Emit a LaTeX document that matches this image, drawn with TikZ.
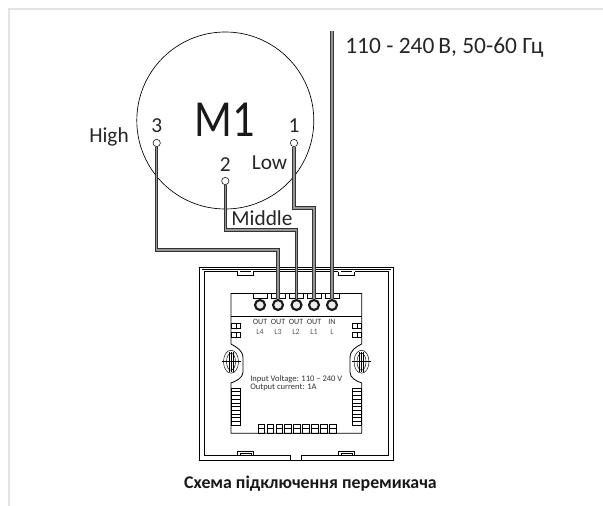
\documentclass[tikz,border=0pt]{standalone}
\usepackage{fontspec}
\setmainfont{Carlito}
\usetikzlibrary{positioning}
\definecolor{wirefill}{RGB}{150,150,150}
\definecolor{edgeline}{RGB}{222,230,236}
\tikzset{
	wire/.style={draw=black!80,line width=0.7pt,double=wirefill,double distance=1.1pt,line join=miter},
	term/.style={circle,draw,fill=white,inner sep=0pt,minimum size=5.5pt,line width=0.4pt},
	plate/.style={line width=0.6pt},
	thin part/.style={line width=0.35pt},
	screw/.style={circle,draw=black!90,line width=1.6pt,fill=black!8,inner sep=0pt,minimum size=7.5pt},
	lab/.style={font=\fontsize{16}{16}\selectfont,inner sep=0pt,text=black!85},
	tiny/.style={font=\fontsize{6}{6}\selectfont,inner sep=0pt,text=black!80},
	spec/.style={anchor=west,font=\fontsize{6.4}{6.4}\selectfont,inner sep=0pt,text=black!80},
}
\begin{document}
\begin{tikzpicture}[x=0.75pt,y=-0.75pt]
	\useasboundingbox (0,0) rectangle (603,506);
	% page edge
	\draw[edgeline,line width=0.9pt] (9,506) -- (9,9) -- (603,9);
	% motor
	\node[circle,draw,line width=0.5pt,minimum size=132.75pt,inner sep=0pt] (motor) at (225.3,120.5) {};
	\node[font=\fontsize{39}{39}\selectfont,inner sep=0pt,text=black!90,xscale=0.85] (mname) at (224.5,120) {M1};
	\node[term] (t3) at (156.7,143) {};
	\node[term] (t2) at (225.3,181) {};
	\node[term] (t1) at (294,143) {};
	\node[lab] (n3) at (156.7,126) {3};
	\node[lab] (n2) at (225.3,165) {2};
	\node[lab] (n1) at (294,126) {1};
	\node[lab] (high) at (109,137) {High};
	\node[lab] (low) at (269.5,163) {Low};
	\node[lab] (middle) at (262,218) {Middle};
	\node[lab,anchor=west,font=\fontsize{17.6}{17.6}\selectfont] (volt) at (345,47.5) {110 - 240\,В, 50-60 Гц};
	% plate
	\draw[plate] (199,460.7) -- (199,267) -- (393.3,267) -- (393.3,460.7) -- cycle;
	\draw[plate] (290,460.7) -- (290,455.7) -- (204,455.7) -- (204,271.5) -- (238,271.5);
	\draw[plate] (301.7,460.7) -- (301.7,455.7) -- (388.5,455.7) -- (388.5,271.5) -- (355,271.5);
	\draw[plate] (253,271.5) -- (338,271.5);
	\draw[thin part] (201.5,269.5) -- (391,269.5);
	% clips
	\foreach \cx in {245.5,346.5}{
		\draw[plate] ({\cx-8},271.5) -- ({\cx-8},275.5) -- ({\cx+8},275.5) -- ({\cx+8},271.5);
		\draw[thin part] ({\cx-5.5},271.5) -- ({\cx+5.5},271.5);
		\draw[plate] ({\cx-8},455.7) -- ({\cx-8},451) -- ({\cx+8},451) -- ({\cx+8},455.7);
		\draw[thin part] ({\cx-5.5},455.7) rectangle ({\cx+5.5},453);
	}
	% inner board
	\draw[plate] (231,293) -- (361.7,293);
	\draw[plate] (231,316) -- (361.7,316);
	\draw[plate] (231,293) -- (231,344) .. controls (236,347) and (243,350) .. (243,358) -- (243,372) .. controls (243,378) and (236,381) .. (231,383) -- (231,433.3) -- (361.7,433.3) -- (361.7,383) .. controls (356,381) and (350,378) .. (350,372) -- (350,358) .. controls (350,350) and (356,347) .. (361.7,344) -- (361.7,293);
	% connector pins
	\foreach \px in {260,278,296,314,332}{
		\draw[plate] ({\px-7},293) rectangle ({\px+7},298.5);
	}
	% screws
	\node[screw] (l4) at (260,305) {};
	\node[screw] (l3) at (278,305) {};
	\node[screw] (l2) at (296.5,305) {};
	\node[screw] (l1) at (314,305) {};
	\node[screw] (ln) at (332,305) {};
	% wires
	\coordinate (feed) at (332,31.5);
	\draw[wire] (t3) -- (t3 |- 0,250) -- (l3 |- 0,250) -- (l3);
	\draw[wire] (t2) -- (t2 |- 0,230) -- (l2 |- 0,230) -- (l2);
	\draw[wire] (t1) -- (t1 |- 0,208) -- (l1 |- 0,208) -- (l1);
	\draw[wire] (feed) -- (ln);
	% terminal text
	\foreach \px/\tp/\bt in {260/OUT/L4,278/OUT/L3,296/OUT/L2,314/OUT/L1,332/IN/L}{
		\node[tiny] at (\px,321.7) {\tp};
		\node[tiny,text=black!65] at (\px,332.3) {\bt};
	}
	% side tabs
	\foreach \sx in {231,352}{
		\foreach \sy in {323,332}{
			\draw[thin part] (\sx,\sy) rectangle ++(9.7,5);
			\draw[thin part] ({\sx+4.8},\sy) -- ++(0,5);
		}
		\foreach \sy in {388,395.4,402.8,410.2,417.6}{
			\draw[thin part] (\sx,\sy) rectangle ++(9.7,7.4);
			\draw[thin part] (\sx,{\sy+3.7}) -- ++(9.7,0);
		}
	}
	% bottom tabs
	\foreach \i in {0,...,8}{
		\draw[thin part] ({258+\i*8.9},424) rectangle ++(6.6,9.3);
		\draw[thin part] ({258+\i*8.9},428.5) -- ++(6.6,0);
	}
	% mounting holes
	\foreach \hx in {231,361.5}{
		\draw[thin part] (\hx,361.7) ellipse (7.5 and 11.5);
		\draw[thin part] (\hx,361.7) ellipse (4.5 and 8.5);
		\draw[thin part] ({\hx-9.5},361.7) -- ({\hx+9.5},361.7);
		\foreach \dx in {-2,0,2}{
			\draw[thin part] ({\hx+\dx},351.5) -- ({\hx+\dx},372);
		}
	}
	% plate text
	\node[spec] (spec1) at (250,379) {Input Voltage: 110 – 240 V};
	\node[spec] (spec2) at (250,387) {Output current: 1A};
	% caption
	\node[font=\fontsize{13.4}{13.4}\selectfont\bfseries,inner sep=0pt,text=black!90] (caption) at (310.5,483.5) {Схема підключення перемикача};
\end{tikzpicture}
\end{document}
